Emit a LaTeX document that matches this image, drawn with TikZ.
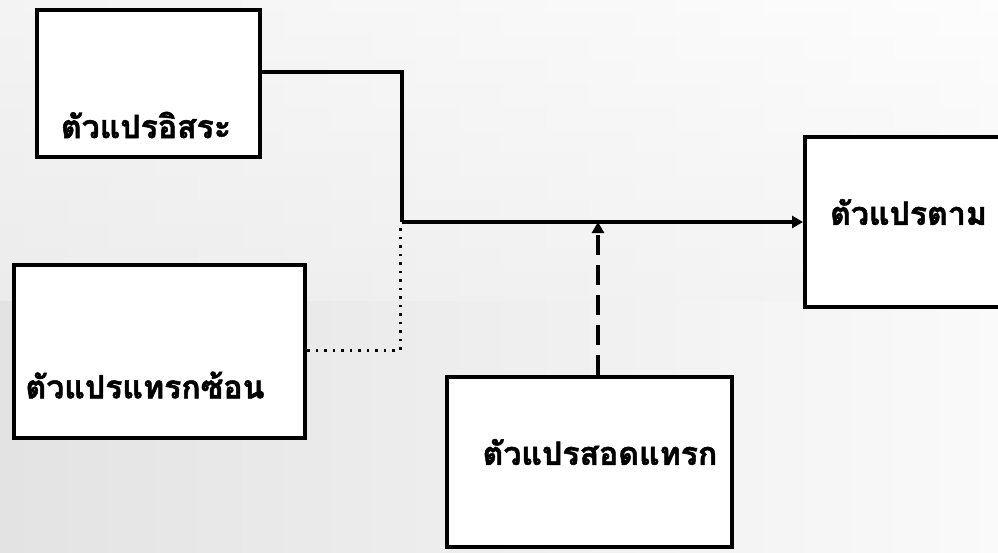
\documentclass[tikz,border=0pt]{standalone}
\usepackage{fontspec}
\newfontfamily\thaifont[Script=Thai,FakeBold=1.5]{Loma}
\usetikzlibrary{arrows.meta,shadings}
\begin{document}
\begin{tikzpicture}[x=1pt,y=-1pt,
  varbox/.style={draw=black,line width=4pt,fill=white,inner sep=0pt,anchor=north west},
  vartext/.style={font=\thaifont\bfseries\fontsize{32}{36}\selectfont,inner sep=0pt},
  link/.style={line width=3.5pt,black}]
\clip (0,0) rectangle (998,552);
\shade[left color=gray!22,right color=gray!4] (0,0) rectangle (998,552);
\shade[top color=white,bottom color=gray!10,opacity=0.6] (0,0) rectangle (998,300);
% boxes
\node[varbox,minimum width=223pt,minimum height=147pt] (iv) at (35,8) {};
\node[varbox,minimum width=291pt,minimum height=173pt] (ev) at (12,263) {};
\node[varbox,minimum width=215pt,minimum height=170pt] (dv) at (803,135) {};
\node[varbox,minimum width=285pt,minimum height=170pt] (mv) at (445,375) {};
% texts
\node[vartext] (ivt) at (146,125) {ตัวแปรอิสระ};
\node[vartext] (evt) at (145,385) {ตัวแปรแทรกซ้อน};
\node[vartext,anchor=west] (dvt) at (830,212) {ตัวแปรตาม};
\node[vartext] (mvt) at (600,452) {ตัวแปรสอดแทรก};
% junctions
\coordinate (j) at (402,222);
\coordinate (k) at (598,222);
% connectors
\draw[link] (iv.east |- 0,72) -| (j);
\draw[link,-{Triangle[length=11pt,width=12pt]}] (j) -- (dv.west |- j);
\draw[line width=3pt,dash pattern=on 2.5pt off 6pt] (ev.east |- 0,350) -| (400,225);
\draw[line width=3.5pt,dash pattern=on 20pt off 10pt,-{Triangle[length=11pt,width=12pt]}] (mv.north -| k) -- (k);
\end{tikzpicture}
\end{document}
